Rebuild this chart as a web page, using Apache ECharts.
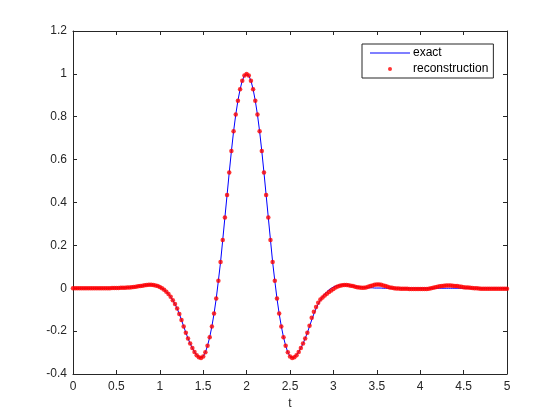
<!DOCTYPE html>
<html>
<head>
<meta charset="utf-8">
<script src="https://cdn.jsdelivr.net/npm/echarts@6/dist/echarts.min.js"></script>
<style>
  html, body { margin: 0; padding: 0; background: #fff; }
  #chart { width: 560px; height: 420px; }
</style>
</head>
<body>
<div id="chart"></div>
<script>
// sample grid: t = 0 .. 5, step 0.025 (201 samples)
const tStart = 0;
const tStep = 0.025;
const xTicks = [0, 0.5, 1, 1.5, 2, 2.5, 3, 3.5, 4, 4.5, 5];
const yTicks = [-0.4, -0.2, 0, 0.2, 0.4, 0.6, 0.8, 1, 1.2];

const exactValues = [
  0, 0, 0, 0, 0, 0, 0, 0, 0, 0,
  0, 0, 0, 0, 0, 0, 0, 0, 0.001, 0.001,
  0.001, 0.001, 0.002, 0.002, 0.002, 0.003, 0.004, 0.005, 0.006, 0.007,
  0.009, 0.010, 0.012, 0.014, 0.015, 0.016, 0.016, 0.015, 0.013, 0.010,
  0.006, 0.000, -0.007, -0.016, -0.027, -0.040, -0.056, -0.074, -0.095, -0.120,
  -0.148, -0.178, -0.207, -0.234, -0.258, -0.279, -0.297, -0.312, -0.322, -0.325,
  -0.318, -0.299, -0.268, -0.228, -0.178, -0.118, -0.048, 0.035, 0.122, 0.225,
  0.330, 0.435, 0.540, 0.640, 0.732, 0.810, 0.875, 0.928, 0.968, 0.992,
  1.000, 0.992, 0.968, 0.928, 0.875, 0.810, 0.732, 0.640, 0.540, 0.435,
  0.330, 0.225, 0.122, 0.035, -0.048, -0.118, -0.178, -0.228, -0.268, -0.299,
  -0.318, -0.325, -0.322, -0.312, -0.297, -0.279, -0.258, -0.234, -0.207, -0.178,
  -0.148, -0.120, -0.095, -0.074, -0.056, -0.040, -0.027, -0.016, -0.007, 0.000,
  0.006, 0.010, 0.013, 0.015, 0.016, 0.016, 0.015, 0.014, 0.012, 0.010,
  0.009, 0.007, 0.006, 0.005, 0.004, 0.003, 0.002, 0.002, 0.002, 0.001,
  0.001, 0.001, 0.001, 0, 0, 0, 0, 0, 0, 0,
  0, 0, 0, 0, 0, 0, 0, 0, 0, 0,
  0, 0, 0, 0, 0, 0, 0, 0, 0, 0,
  0, 0, 0, 0, 0, 0, 0, 0, 0, 0,
  0, 0, 0, 0, 0, 0, 0, 0, 0, 0,
  0, 0, 0, 0, 0, 0, 0, 0, 0, 0,
  0
];

const reconValues = [
  0, 0, 0, 0, 0, 0, 0, 0, 0, 0,
  0, 0, 0, 0, 0, 0, 0, 0, 0.001, 0.001,
  0.001, 0.001, 0.002, 0.002, 0.002, 0.003, 0.004, 0.005, 0.006, 0.007,
  0.009, 0.010, 0.012, 0.014, 0.015, 0.016, 0.016, 0.015, 0.013, 0.010,
  0.006, 0.000, -0.007, -0.016, -0.027, -0.040, -0.056, -0.074, -0.095, -0.120,
  -0.148, -0.178, -0.207, -0.234, -0.258, -0.279, -0.297, -0.312, -0.322, -0.325,
  -0.318, -0.299, -0.268, -0.228, -0.178, -0.118, -0.048, 0.035, 0.122, 0.225,
  0.330, 0.435, 0.540, 0.640, 0.732, 0.810, 0.875, 0.928, 0.968, 0.992,
  1.000, 0.992, 0.968, 0.928, 0.875, 0.810, 0.732, 0.640, 0.540, 0.435,
  0.330, 0.225, 0.122, 0.035, -0.048, -0.118, -0.178, -0.228, -0.268, -0.299,
  -0.318, -0.325, -0.322, -0.312, -0.297, -0.279, -0.258, -0.234, -0.207, -0.175,
  -0.138, -0.110, -0.088, -0.068, -0.053, -0.043, -0.034, -0.026, -0.018, -0.010,
  -0.003, 0.003, 0.008, 0.012, 0.014, 0.015, 0.015, 0.014, 0.012, 0.010,
  0.007, 0.005, 0.003, 0.002, 0.002, 0.004, 0.007, 0.010, 0.013, 0.016,
  0.018, 0.018, 0.016, 0.013, 0.010, 0.007, 0.004, 0.002, 0.000, -0.001,
  -0.001, -0.002, -0.002, -0.002, -0.002, -0.003, -0.003, -0.003, -0.004, -0.004,
  -0.004, -0.004, -0.004, -0.003, -0.002, 0.000, 0.002, 0.005, 0.007, 0.009,
  0.011, 0.012, 0.013, 0.013, 0.013, 0.012, 0.011, 0.010, 0.008, 0.007,
  0.005, 0.004, 0.003, 0.002, 0.001, 0.000, 0.000, -0.001, -0.002, -0.002,
  -0.002, -0.002, -0.002, -0.002, -0.002, -0.002, -0.002, -0.002, -0.002, -0.002,
  -0.002
];

function pairs(values) {
  return values.map((v, i) => [+(tStart + i * tStep).toFixed(3), v]);
}

const axisColor = "#262626";
const fontFamily = "Liberation Sans, Arial, sans-serif";

function xAxisOf(position, showLabel) {
  return {
    type: "value",
    position: position,
    min: xTicks[0],
    max: xTicks[xTicks.length - 1],
    interval: 0.5,
    name: showLabel ? "t" : "",
    nameLocation: "middle",
    nameGap: 21,
    nameTextStyle: { color: axisColor, fontSize: 12, fontFamily: fontFamily },
    axisLine: { show: true, onZero: false, lineStyle: { color: axisColor, width: 1 } },
    axisTick: { show: true, inside: true, length: 4, lineStyle: { color: axisColor } },
    axisLabel: { show: showLabel, color: axisColor, fontSize: 12, fontFamily: fontFamily, margin: 7 },
    splitLine: { show: false },
  };
}

function yAxisOf(position, showLabel) {
  return {
    type: "value",
    position: position,
    min: yTicks[0],
    max: yTicks[yTicks.length - 1],
    interval: 0.2,
    axisLine: { show: true, onZero: false, lineStyle: { color: axisColor, width: 1 } },
    axisTick: { show: true, inside: true, length: 4, lineStyle: { color: axisColor } },
    axisLabel: {
      show: showLabel,
      color: axisColor,
      fontSize: 12,
      fontFamily: fontFamily,
      margin: 6,
      formatter: (v) => String(+v.toFixed(1)),
    },
    splitLine: { show: false },
  };
}

const chart = echarts.init(document.getElementById("chart"));
chart.setOption({
  backgroundColor: "#ffffff",
  animation: false,
  grid: { left: 73, right: 53, top: 31, bottom: 46, containLabel: false },
  legend: {
    orient: "vertical",
    left: 362,
    top: 44,
    padding: [3, 5, 3, 8],
    itemGap: 4,
    itemWidth: 40,
    itemHeight: 4,
    borderColor: axisColor,
    borderWidth: 1,
    backgroundColor: "#ffffff",
    textStyle: { color: "#000000", fontSize: 12, fontFamily: fontFamily, padding: [0, 0, 0, -2] },
    data: [
      { name: "exact", icon: "path://M0,0 L40,0 L40,1 L0,1 Z", itemStyle: { color: "#0000ff" } },
      { name: "reconstruction", icon: "circle", itemStyle: { color: "#ff0000" } },
    ],
  },
  xAxis: [xAxisOf("bottom", true), xAxisOf("top", false)],
  yAxis: [yAxisOf("left", true), yAxisOf("right", false)],
  series: [
    {
      name: "exact",
      type: "line",
      z: 2,
      xAxisIndex: 0,
      yAxisIndex: 0,
      symbol: "none",
      showSymbol: false,
      color: "#0000ff",
      lineStyle: { color: "#0000ff", width: 1 },
      data: pairs(exactValues),
    },
    {
      name: "reconstruction",
      type: "scatter",
      z: 5,
      xAxisIndex: 0,
      yAxisIndex: 0,
      symbol: "circle",
      symbolSize: 4.5,
      color: "#ff0000",
      itemStyle: { color: "#ff0000" },
      data: pairs(reconValues),
    },
  ],
});
</script>
</body>
</html>
